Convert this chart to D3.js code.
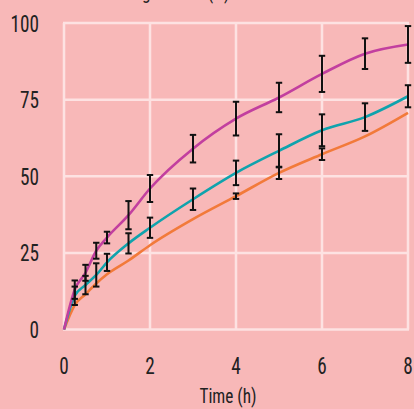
<!DOCTYPE html>
<html><head><meta charset="utf-8">
<script src="https://cdn.jsdelivr.net/npm/d3@7"></script>
<style>
html,body{margin:0;padding:0;background:#f8b8b8;overflow:hidden}
svg{display:block}
text{font-family:"Liberation Sans Narrow","Roboto Condensed","DejaVu Sans Condensed",sans-serif;fill:#222}
</style></head>
<body>
<script>
const time = [0, 0.25, 0.5, 0.75, 1, 1.5, 2, 3, 4, 5, 6, 7, 8];
const seriesA = [0, 13, 18.5, 25.7, 30, 37.3, 46, 59, 68.8, 75.7, 83.4, 90, 93];
const errA    = [0, 3, 2.6, 2.6, 1.9, 4.6, 4.4, 4.5, 5.5, 4.8, 5.9, 5, 6];
const seriesB = [0, 11, 14.5, 17.8, 21.9, 28.1, 33.2, 42.5, 51.1, 58.3, 65, 69.3, 76.1];
const errB    = [0, 3, 3, 3.8, 2.8, 3.3, 3.3, 3.5, 4, 5.4, 5.2, 4.5, 3.6];
const seriesC = [0, 8, 11.5, 15, 18, 22.5, 27.5, 36, 43.5, 51.1, 57.2, 63, 70.7];
const errC    = [0, 0, 0, 0, 0, 0, 0, 0, 0.9, 2, 1.9, 0, 0];
const xTicks = [0, 2, 4, 6, 8];
const yTicks = [0, 25, 50, 75, 100];
const colors = ["#c23f9f", "#0fa3ad", "#f27a3a"];
const yTitle = "Cumulative drug release (%)";
const xTitle = "Time (h)";

const W = 414, H = 409;
const svg = d3.select("body").append("svg").attr("width", W).attr("height", H);
svg.append("rect").attr("width", W).attr("height", H).attr("fill", "#f8b8b8");

const x = d3.scaleLinear().domain([0, 8]).range([64, 408]);
const y = d3.scaleLinear().domain([0, 100]).range([329.5, 23]);

const grid = svg.append("g").attr("stroke", "#fde2e2").attr("stroke-width", 2.5);
grid.selectAll("line.v").data(xTicks).join("line")
  .attr("x1", d => x(d)).attr("x2", d => x(d)).attr("y1", y(0)).attr("y2", y(100));
grid.selectAll("line.h").data(yTicks).join("line")
  .attr("y1", d => y(d)).attr("y2", d => y(d)).attr("x1", x(0) - 1).attr("x2", x(8) + 1);

svg.selectAll("text.yl").data(yTicks).join("text")
  .attr("transform", d => `translate(39,${y(d) + 8.5}) scale(0.8,1)`)
  .attr("text-anchor", "end").attr("font-size", 24).text(d => d);
svg.selectAll("text.xl").data(xTicks).join("text")
  .attr("transform", d => `translate(${x(d)},${373.5}) scale(0.8,1)`)
  .attr("text-anchor", "middle").attr("font-size", 24).text(d => d);

svg.append("text").attr("transform", "translate(228,403) scale(0.82,1)")
  .attr("text-anchor", "middle").attr("font-size", 21).text(xTitle);
svg.append("text").attr("transform", "translate(40,-1.5) scale(0.82,1)")
  .attr("text-anchor", "start").attr("font-size", 21).text(yTitle);

const series = [[seriesA, errA], [seriesB, errB], [seriesC, errC]];
const line = d3.line().x(d => x(d[0])).y(d => y(d[1])).curve(d3.curveMonotoneX);

[2, 1, 0].forEach(i => {
  const pts = time.map((t, k) => [t, series[i][0][k]]);
  svg.append("path").datum(pts).attr("d", line)
    .attr("fill", "none").attr("stroke", colors[i]).attr("stroke-width", 2.6);
});

const eb = svg.append("g").attr("stroke", "#111").attr("stroke-width", 2);
series.forEach(([vals, errs]) => {
  time.forEach((t, k) => {
    if (k === 0 || errs[k] <= 0) return;
    const cx = x(t), y1 = y(vals[k] - errs[k]), y2 = y(vals[k] + errs[k]);
    eb.append("line").attr("x1", cx).attr("x2", cx).attr("y1", y1).attr("y2", y2);
    eb.append("line").attr("x1", cx - 3.2).attr("x2", cx + 3.2).attr("y1", y1).attr("y2", y1);
    eb.append("line").attr("x1", cx - 3.2).attr("x2", cx + 3.2).attr("y1", y2).attr("y2", y2);
  });
});
</script>
</body></html>
